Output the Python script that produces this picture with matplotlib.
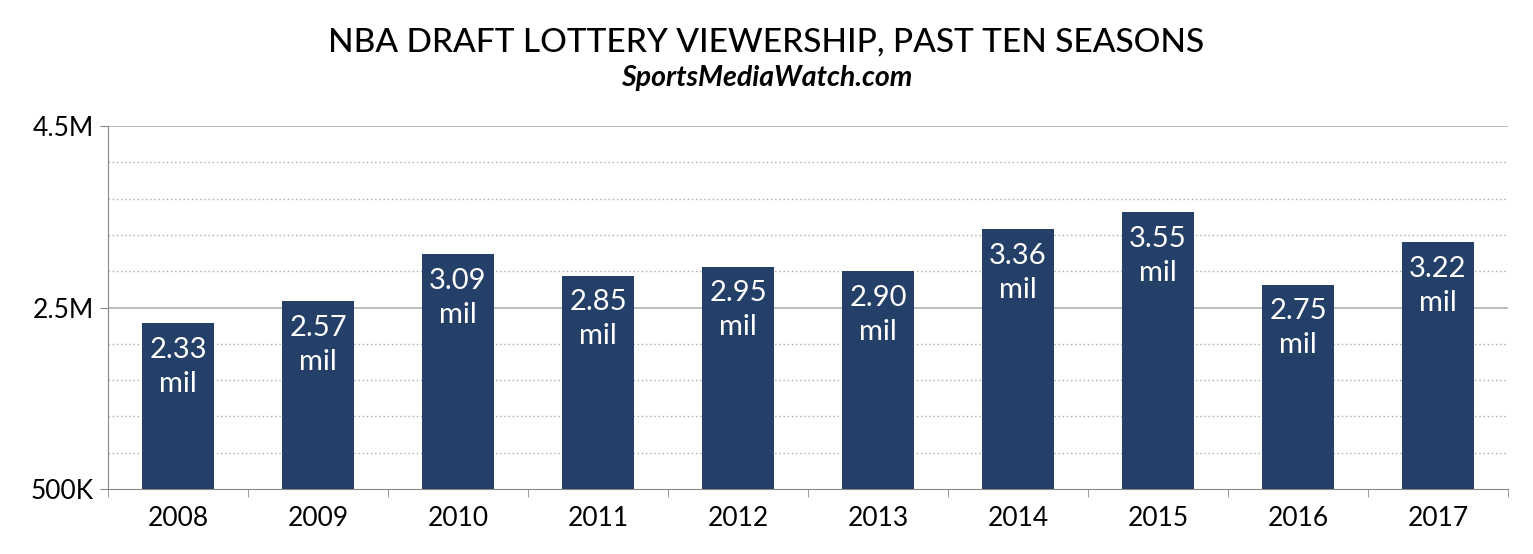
import matplotlib.pyplot as plt
import numpy as np

years = ["2008", "2009", "2010", "2011", "2012", "2013", "2014", "2015", "2016", "2017"]
viewers = [2.33, 2.57, 3.09, 2.85, 2.95, 2.90, 3.36, 3.55, 2.75, 3.22]  # millions
ytick_vals = [0.5, 2.5, 4.5]
ytick_labels = ["500K", "2.5M", "4.5M"]

plt.rcParams["font.family"] = "Lato"

fig = plt.figure(figsize=(15.33, 5.54), dpi=100)
ax = fig.add_axes([108 / 1533, 1 - 489 / 554, 1400 / 1533, 363 / 554])

x = np.arange(len(years))
base = 0.5
bars = ax.bar(x, [v - base for v in viewers], width=0.52, bottom=base, color="#243f68", zorder=3)
for p, v in zip(bars, viewers):
    ax.text(p.get_x() + p.get_width() / 2, v - 0.15, f"{v:.2f}\nmil", ha="center", va="top",
            color="white", fontsize=21, linespacing=1.38, zorder=4)

ax.set_xlim(-0.5, len(years) - 0.5)
ax.set_ylim(0.5, 4.5)
ax.set_yticks(ytick_vals)
ax.set_yticklabels(ytick_labels, fontsize=19)
for y in np.arange(0.9, 4.5, 0.4):
    if abs(y - 2.5) > 0.01:
        ax.axhline(y, color="#aaaaaa", lw=1, ls=(0, (1, 2)), zorder=1)
for y in [2.5, 4.5]:
    ax.axhline(y, color="#b0b0b0", lw=1.2, zorder=1)

ax.set_xticks(x)
ax.set_xticklabels(years, fontsize=19)
ax.set_xticks(np.arange(-0.5, len(years)), minor=True)
ax.tick_params(axis="x", which="major", length=0, pad=12)
ax.tick_params(axis="x", which="minor", length=6, color="#888888")
ax.tick_params(axis="y", length=6, color="#888888", pad=4)
for s in ["top", "right"]:
    ax.spines[s].set_visible(False)
ax.spines["left"].set_color("#888888")
ax.spines["bottom"].set_color("#888888")

fig.text(0.5, 1 - 42 / 554, "NBA DRAFT LOTTERY VIEWERSHIP, PAST TEN SEASONS", ha="center", va="center",
         fontsize=24, fontweight="medium")
fig.text(0.5, 1 - 78 / 554, "SportsMediaWatch.com", ha="center", va="center", fontsize=20.5,
         fontstyle="italic", fontweight="bold")

fig.savefig("out.png", dpi=100)
